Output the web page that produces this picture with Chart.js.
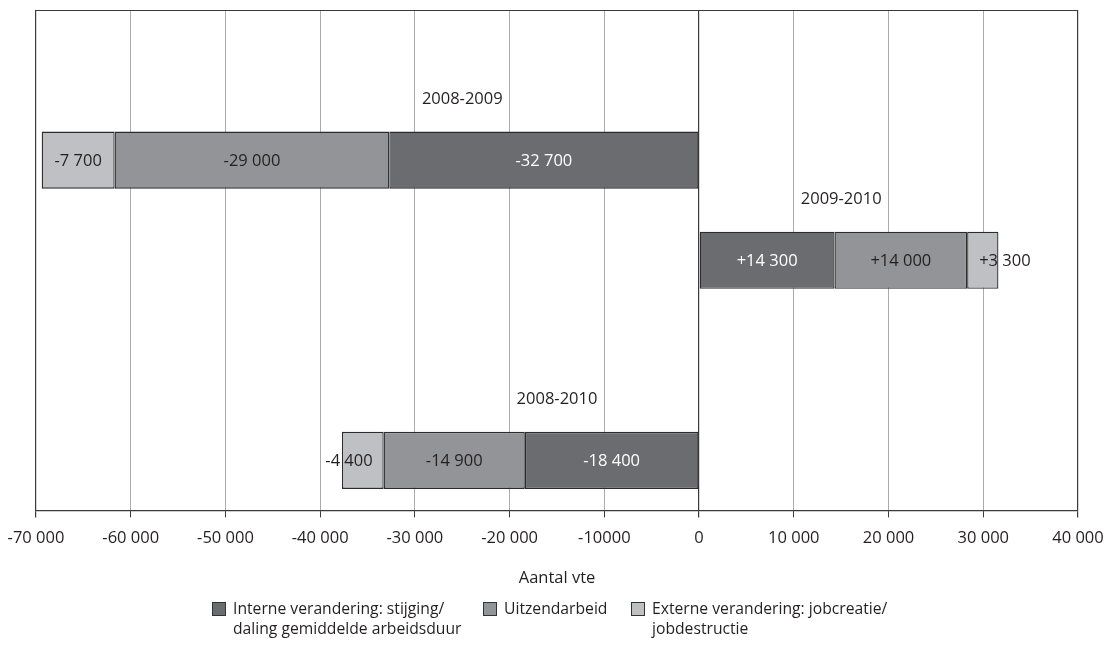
<!DOCTYPE html>
<html><head><meta charset="utf-8">
<script src="https://cdn.jsdelivr.net/npm/chart.js@4.4.1/dist/chart.umd.min.js"></script>
<style>
html,body{margin:0;padding:0;background:#fff;}
#wrap{position:relative;width:1112px;height:646px;overflow:hidden;}
#c{position:absolute;left:0;top:0;width:1112px;height:646px;}
.lg{position:absolute;top:598px;display:flex;align-items:flex-start;font-family:"Open Sans",sans-serif;font-size:15.7px;line-height:20px;color:#231f20;}
.lg .bx{width:14px;height:14px;border:1px solid #333;box-sizing:border-box;margin-top:4px;margin-right:7px;flex:none;}
</style></head>
<body><div id="wrap"><canvas id="c" width="1112" height="646"></canvas></div>
<script>
// ---- data ----
const categories = ['', '2008-2009', '2009-2010', '', '2008-2010'];
const interneValues = [null, -32700, 14300, null, -18400];
const uitzendValues = [null, -29000, 14000, null, -14900];
const externeValues = [null, -7700, 3300, null, -4400];
const seriesNames = [
  ['Interne verandering: stijging/', 'daling gemiddelde arbeidsduur'],
  ['Uitzendarbeid'],
  ['Externe verandering: jobcreatie/', 'jobdestructie']
];
const xTickValues = [-70000, -60000, -50000, -40000, -30000, -20000, -10000, 0, 10000, 20000, 30000, 40000];
const xTickLabels = ['-70 000', '-60 000', '-50 000', '-40 000', '-30 000', '-20 000', '-10000', '0', '10 000', '20 000', '30 000', '40 000'];
const axisTitle = 'Aantal vte';

// ---- styles ----
const colors = ['#6b6c70', '#939498', '#bfc0c4'];
const labelColors = ['#ffffff', '#231f20', '#231f20'];
const FONT = '"Open Sans", sans-serif';
const FS = 16.5;
const frameColor = '#3a3a3a';

function fmt(v) {
  const s = Math.abs(v).toString().replace(/\B(?=(\d{3})+(?!\d))/g, ' ');
  return (v < 0 ? '-' : '+') + s;
}

const valueLabelPlugin = {
  id: 'valueLabels',
  afterDatasetsDraw(chart) {
    const ctx = chart.ctx;
    ctx.save();
    ctx.font = FS + 'px ' + FONT;
    ctx.textBaseline = 'middle';
    ctx.textAlign = 'left';
    chart.data.datasets.forEach((ds, di) => {
      const meta = chart.getDatasetMeta(di);
      meta.data.forEach((el, i) => {
        const v = ds.data[i];
        if (v === null || v === undefined) return;
        const t = fmt(v);
        const w = ctx.measureText(t).width;
        const l = Math.min(el.x, el.base), r = Math.max(el.x, el.base);
        let x;
        if (w > r - l - 6) {
          x = v > 0 ? l + 12 : r - 11 - w;
        } else {
          x = (l + r) / 2 - w / 2;
        }
        ctx.fillStyle = labelColors[di];
        ctx.fillText(t, x, el.y + 1);
      });
    });
    // category labels above each group
    const xs = chart.scales.x, ys = chart.scales.y;
    const anchorX = [null, -25000, 15000, null, -15000];
    ctx.textAlign = 'center';
    ctx.fillStyle = '#231f20';
    categories.forEach((c, i) => {
      if (!c) return;
      ctx.fillText(c, xs.getPixelForValue(anchorX[i]), ys.getPixelForValue(i - 0.61));
    });
    ctx.restore();
  }
};

const framePlugin = {
  id: 'frame',
  beforeDatasetsDraw(chart) {
    const a = chart.chartArea, ctx = chart.ctx;
    ctx.save();
    ctx.strokeStyle = frameColor;
    ctx.lineWidth = 1.2;
    ctx.beginPath();
    ctx.moveTo(a.left, a.top + 0.5);
    ctx.lineTo(a.right, a.top + 0.5);
    ctx.stroke();
    ctx.restore();
  }
};

const datasets = [interneValues, uitzendValues, externeValues].map((d, i) => ({
  label: seriesNames[i].join(' '),
  data: d,
  backgroundColor: colors[i],
  borderColor: '#2b2b2b',
  borderWidth: 1.3,
  borderSkipped: false,
  barPercentage: 0.57,
  categoryPercentage: 1.0
}));

const edge = v => v === 0 || v === -70000 || v === 40000;

new Chart(document.getElementById('c'), {
  type: 'bar',
  data: { labels: categories, datasets },
  options: {
    responsive: false,
    animation: false,
    indexAxis: 'y',
    devicePixelRatio: 1,
    layout: { padding: { left: 36, right: 34, top: 10, bottom: 58 } },
    plugins: { legend: { display: false }, tooltip: { enabled: false } },
    scales: {
      y: { display: false, stacked: true },
      x: {
        stacked: true,
        min: -70000, max: 40000,
        afterBuildTicks: s => { s.ticks = xTickValues.map(v => ({ value: v })); },
        afterFit: s => { s.paddingLeft = 0; s.paddingRight = 0; },
        ticks: {
          autoSkip: false, maxRotation: 0,
          padding: 11,
          color: '#231f20',
          font: { family: FONT, size: FS },
          callback: (v, i) => xTickLabels[i]
        },
        grid: {
          color: c => (c.tick && edge(c.tick.value)) ? frameColor : '#ababab',
          lineWidth: c => (c.tick && edge(c.tick.value)) ? 1.2 : 1,
          tickColor: frameColor,
          tickLength: 7
        },
        border: { display: true, color: frameColor, width: 1.2 },
        title: {
          display: true, text: axisTitle, color: '#231f20',
          font: { family: FONT, size: FS },
          padding: { top: 9, bottom: 0 }
        }
      }
    }
  },
  plugins: [valueLabelPlugin, framePlugin]
});

// ---- HTML legend ----
const legendLeft = [212, 483, 631];
const wrap = document.getElementById('wrap');
seriesNames.forEach((lines, i) => {
  const d = document.createElement('div');
  d.className = 'lg';
  d.style.left = legendLeft[i] + 'px';
  const b = document.createElement('div');
  b.className = 'bx';
  b.style.background = colors[i];
  const t = document.createElement('div');
  t.innerHTML = lines.map(s => s.replace(/&/g, '&amp;').replace(/</g, '&lt;')).join('<br>');
  d.appendChild(b); d.appendChild(t);
  wrap.appendChild(d);
});
</script>
</body></html>
